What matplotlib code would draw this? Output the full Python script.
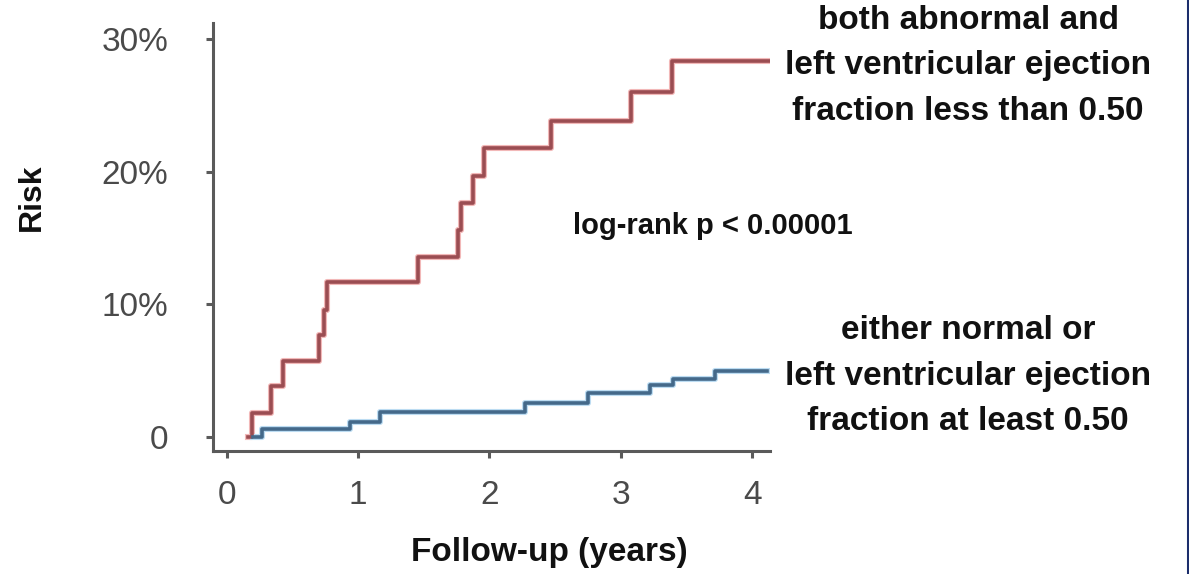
import matplotlib
matplotlib.use("Agg")
import matplotlib.pyplot as plt

# cumulative risk (%) over follow-up (years)
t_abnormal = [0.165, 0.19, 0.34, 0.426, 0.705, 0.74, 0.76, 1.458, 1.76, 1.78,
              1.875, 1.96, 2.47, 3.08, 3.39, 4.13]
risk_abnormal = [0, 1.83, 3.84, 5.73, 7.7, 9.6, 11.66, 13.6, 15.6, 17.6,
                 19.7, 21.8, 23.8, 26.0, 28.3, 28.3]

t_normal = [0.2, 0.27, 0.94, 1.17, 2.27, 2.75, 3.22, 3.40, 3.72, 4.11]
risk_normal = [0, 0.6, 1.15, 1.86, 2.6, 3.3, 3.9, 4.4, 5.0, 5.0]

x_ticks = [0, 1, 2, 3, 4]
y_ticks = [0, 10, 20, 30]
y_labels = ["0", "10%", "20%", "30%"]

label_abnormal = "both abnormal and\nleft ventricular ejection\nfraction less than 0.50"
label_normal = "either normal or\nleft ventricular ejection\nfraction at least 0.50"

plt.rcParams["font.family"] = ["Liberation Sans", "DejaVu Sans"]

fig = plt.figure(figsize=(11.89, 5.74), dpi=100)
ax = fig.add_axes([213 / 1189, 1 - 451 / 574, (770 - 213) / 1189, (451 - 23) / 574])

axis_col = "#5a5a5a"

# light halo under each curve, then the curve itself
ax.step(t_abnormal, risk_abnormal, where="post", color="#f2b8b8", lw=4.4, zorder=2)
ax.step(t_abnormal, risk_abnormal, where="post", color="#9b4d52", lw=2.6, zorder=3)
ax.step(t_normal, risk_normal, where="post", color="#bcdcf2", lw=4.4, zorder=2)
ax.step(t_normal, risk_normal, where="post", color="#44698a", lw=2.6, zorder=3)

ax.set_xlim(-0.104, 4.135)
ax.set_ylim(-1.05, 31.2)

for s in ["top", "right"]:
    ax.spines[s].set_visible(False)
for s in ["left", "bottom"]:
    ax.spines[s].set_color(axis_col)
    ax.spines[s].set_linewidth(2.2)

ax.set_xticks(x_ticks)
ax.set_xticklabels([str(v) for v in x_ticks])
ax.set_yticks(y_ticks)
ax.set_yticklabels(y_labels)
ax.tick_params(axis="both", colors=axis_col, length=5, width=2.2,
               labelsize=24, labelcolor="#4a4a4a")
ax.tick_params(axis="y", pad=27)
ax.tick_params(axis="x", pad=16)

ax.text(3.70, 15.9, "log-rank p < 0.00001", fontsize=21, fontweight="bold",
        ha="center", va="center", color="#111111")

fig.text(968 / 1189, 1 - 66 / 574, label_abnormal, fontsize=24, fontweight="bold",
         ha="center", va="center", linespacing=1.6, color="#111111")
fig.text(968 / 1189, 1 - 376 / 574, label_normal, fontsize=24, fontweight="bold",
         ha="center", va="center", linespacing=1.6, color="#111111")

fig.text(549 / 1189, 1 - 552 / 574, "Follow-up (years)", fontsize=24,
         fontweight="bold", ha="center", va="center", color="#111111")
fig.text(32 / 1189, 1 - 197 / 574, "Risk", fontsize=23, fontweight="bold",
         rotation=90, ha="center", va="center", color="#111111")

# navy frame line along the right edge
fig.add_artist(plt.Line2D([1187.5 / 1189, 1187.5 / 1189], [0, 1],
                          transform=fig.transFigure, color="#1c2e6c", lw=2.2))

fig.savefig("out.png", dpi=100)
